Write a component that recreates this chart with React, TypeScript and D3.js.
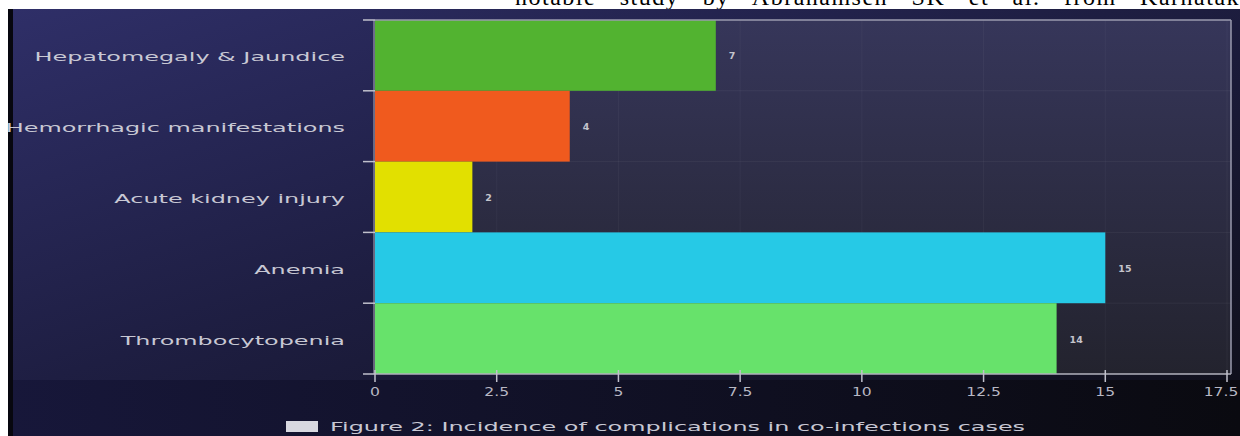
import React from 'react';
import * as d3 from 'd3';

const categories = [
  'Hepatomegaly & Jaundice',
  'Hemorrhagic manifestations',
  'Acute kidney injury',
  'Anemia',
  'Thrombocytopenia',
];
const values = [7, 4, 2, 15, 14];
const barColors = ['#52b330', '#f05a1e', '#e2e000', '#26c9e6', '#67e26b'];
const xTicks = [0, 2.5, 5, 7.5, 10, 12.5, 15, 17.5];
const caption = 'Figure 2: Incidence of complications in co-infections cases';
const topLine = 'notable study by Abrahamsen SK et al. from Karnataka';

const W = 1240;
const H = 436;
const plot = { left: 375, right: 1231, top: 20, bottom: 374 };
const FONT = 'DejaVu Sans, Verdana, sans-serif';

export default function App() {
  const x = d3.scaleLinear().domain([0, 17.5]).range([plot.left, plot.right - 4]);
  const y = d3.scaleBand<string>().domain(categories).range([plot.top, plot.bottom]).padding(0);
  const bounds = categories.map((c) => y(c) as number).concat([plot.bottom]);

  return (
    <div style={{ position: 'absolute', left: 0, top: 0 }}>
      <svg width={W} height={H} style={{ display: 'block' }}>
        <defs>
          <linearGradient id="bg" x1="0" y1="0" x2="1" y2="1">
            <stop offset="0" stopColor="#2f2f68" />
            <stop offset="0.45" stopColor="#1e1e42" />
            <stop offset="1" stopColor="#0e0e18" />
          </linearGradient>
          <linearGradient id="plotbg" x1="0" y1="0" x2="0" y2="1">
            <stop offset="0" stopColor="#36365a" />
            <stop offset="1" stopColor="#23232e" />
          </linearGradient>
          <linearGradient id="bottombg" x1="0" y1="0" x2="1" y2="0">
            <stop offset="0" stopColor="#17173a" />
            <stop offset="1" stopColor="#0a0a10" />
          </linearGradient>
        </defs>
        <rect x={0} y={0} width={W} height={H} fill="#ffffff" />
        {/* page text above the figure, clipped by the figure's top edge */}
        <text x={515} y={5} fontFamily="Liberation Serif, Times New Roman, serif" fontSize={24}
          wordSpacing={16} letterSpacing={1.5} fill="#000">{topLine}</text>
        <rect x={8} y={9} width={W - 8} height={H - 9} fill="url(#bg)" />
        <rect x={8} y={plot.bottom + 6} width={W - 8} height={H - plot.bottom - 6} fill="url(#bottombg)" />
        <rect x={8} y={9} width={5} height={H - 9} fill="#07070f" />
        <rect x={plot.left} y={plot.top} width={plot.right - plot.left} height={plot.bottom - plot.top}
          fill="url(#plotbg)" />

        {xTicks.map((t) => (
          <line key={'g' + t} x1={x(t)} x2={x(t)} y1={plot.top} y2={plot.bottom}
            stroke="#ffffff" strokeOpacity={0.04} />
        ))}
        {bounds.map((b, i) => (
          <line key={'h' + i} x1={plot.left} x2={plot.right} y1={b} y2={b}
            stroke="#ffffff" strokeOpacity={0.05} />
        ))}

        {categories.map((c, i) => (
          <rect key={c} x={x(0)} y={y(c)} width={x(values[i]) - x(0)} height={y.bandwidth()}
            fill={barColors[i]} />
        ))}

        {categories.map((c, i) => (
          <text key={'v' + c} x={x(values[i]) + 13} y={(y(c) as number) + y.bandwidth() / 2 + 4}
            fontFamily={FONT} fontSize={9.5} fill="#c4c4cc" fontWeight="bold">{values[i]}</text>
        ))}

        <line x1={plot.left} x2={plot.right} y1={plot.top} y2={plot.top} stroke="#9a9aae" strokeWidth={1.5} />
        <line x1={plot.right} x2={plot.right} y1={plot.top} y2={plot.bottom} stroke="#9a9aae" strokeWidth={1.5} />
        <line x1={plot.left} x2={plot.right} y1={plot.bottom} y2={plot.bottom} stroke="#b0b0bc" strokeWidth={1.5} />
        <line x1={plot.left - 1} x2={plot.left - 1} y1={plot.top} y2={plot.bottom} stroke="#b0b0bc" strokeWidth={1} />

        {bounds.map((b, i) => (
          <line key={'yt' + i} x1={plot.left - 12} x2={plot.left} y1={b} y2={b}
            stroke="#c0c0cc" strokeWidth={1.5} />
        ))}
        {categories.map((c) => (
          <text key={'yl' + c}
            transform={`translate(${plot.left - 30},${(y(c) as number) + y.bandwidth() / 2 + 6}) scale(2.08,1)`}
            textAnchor="end" fontFamily={FONT} fontSize={11.5} fill="#c8c8d4">{c}</text>
        ))}

        {xTicks.map((t) => (
          <line key={'xt' + t} x1={x(t)} x2={x(t)} y1={plot.bottom - 4} y2={plot.bottom + 8}
            stroke="#c0c0cc" strokeWidth={1.5} />
        ))}
        {xTicks.map((t, i) => (
          <text key={'xl' + t}
            transform={`translate(${i === xTicks.length - 1 ? x(t) - 6 : x(t)},${plot.bottom + 22}) scale(1.3,1)`}
            textAnchor="middle" fontFamily={FONT} fontSize={12} fill="#b8b8c4">{d3.format('~g')(t)}</text>
        ))}

        <rect x={286} y={421} width={32} height={11} fill="#d8d8e0" />
        <text transform={`translate(330,431) scale(2.08,1)`} fontFamily={FONT} fontSize={11.5}
          fill="#c8c8d4">{caption}</text>
      </svg>
    </div>
  );
}
